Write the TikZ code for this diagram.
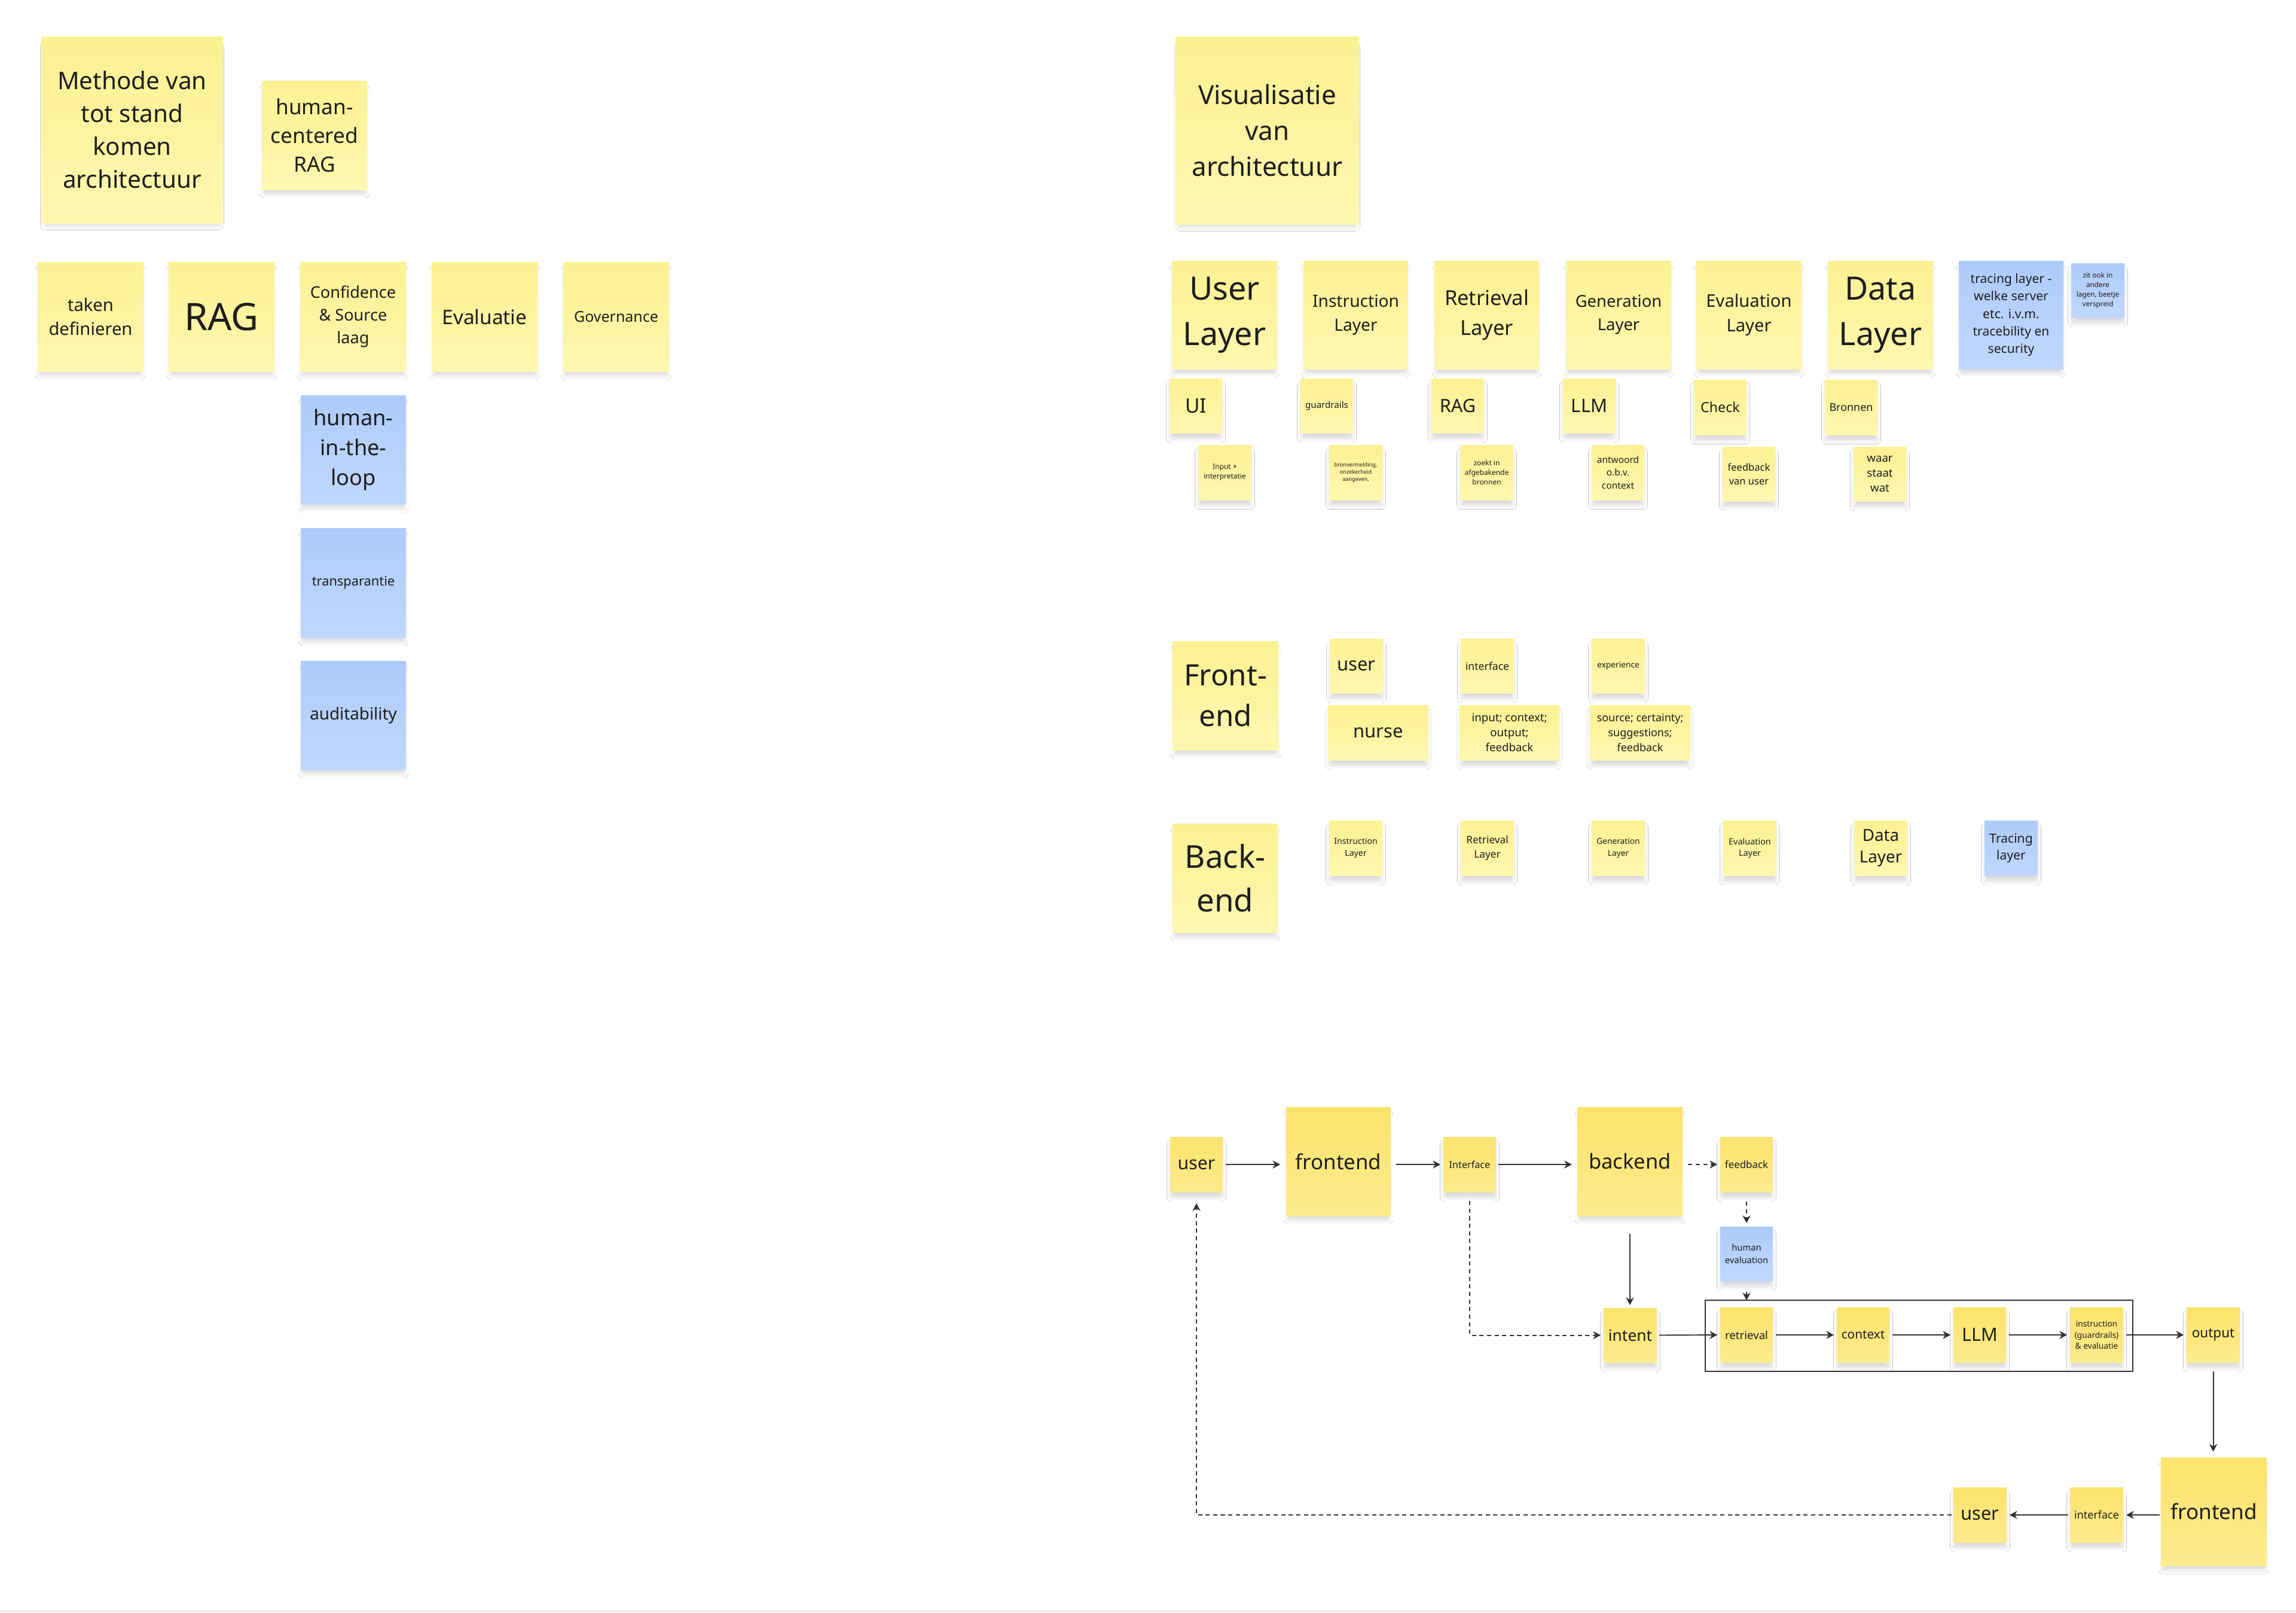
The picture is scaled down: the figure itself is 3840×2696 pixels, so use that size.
\documentclass[tikz,border=0pt]{standalone}
\usepackage{fontspec}
\setmainfont{Noto Sans}
\usetikzlibrary{arrows.meta,shadows.blur}
\definecolor{lyT}{HTML}{FCF192}
\definecolor{lyB}{HTML}{FEF7B0}
\definecolor{dyT}{HTML}{FCE36B}
\definecolor{dyB}{HTML}{FDEB8E}
\definecolor{blT}{HTML}{ADCBFA}
\definecolor{blB}{HTML}{C0D8FC}
\definecolor{txt}{HTML}{1E1E1E}
\definecolor{ln}{HTML}{333333}
\tikzset{
  sticky/.style={inner sep=0pt, outer sep=0pt, align=center, text=txt,
    blur shadow={shadow xshift=0pt, shadow yshift=-3pt, shadow blur radius=2.2pt,
      shadow blur steps=6, shadow opacity=16, shadow scale=0.96}},
  ly/.style={sticky, top color=lyT, bottom color=lyB},
  dy/.style={sticky, top color=dyT, bottom color=dyB},
  bl/.style={sticky, top color=blT, bottom color=blB},
  arr/.style={draw=ln, line width=0.55pt, -{Stealth[length=3.6pt,width=3.8pt,inset=1.1pt]}},
  darr/.style={arr, dash pattern=on 2pt off 1.6pt},
}
% #1 style, #2 name, #3 x1, #4 y1, #5 x2, #6 y2, #7 size, #8 baseline, #9 text
\newcommand{\stk}[9]{%
  \node[#1, minimum width={(#5-#3)*0.01cm}, minimum height={(#6-#4)*0.01cm},
    font={\fontsize{#7pt}{#8pt}\selectfont}] (#2) at ({(#3+#5)/2},{(#4+#6)/2}) {#9};}
\begin{document}
\begin{tikzpicture}[x=0.01cm, y=-0.01cm]
\useasboundingbox[fill=white] (0,0) rectangle (3840,2696);
\fill[gray!12] (0,2692) rectangle (3840,2696);

% ---------- left cluster ----------
\stk{ly}{meth}{69}{61}{373}{373}{11.5}{15.6}{Methode van\\tot stand\\komen\\architectuur}
\stk{ly}{hcr}{438}{135}{614}{317}{10}{13.6}{human-\\centered\\RAG}
\stk{ly}{taken}{63}{438}{240}{621}{8.3}{11.2}{taken\\definieren}
\stk{ly}{rag}{282}{438}{459}{621}{18}{22}{RAG}
\stk{ly}{conf}{502}{438}{679}{621}{7.7}{10.8}{Confidence\\\& Source\\laag}
\stk{ly}{evl}{722}{438}{899}{621}{9.5}{12}{Evaluatie}
\stk{ly}{gov}{942}{438}{1119}{621}{7.1}{9}{Governance}
\stk{bl}{hitl}{503}{661}{679}{843}{10.3}{14.3}{human-\\in-the-\\loop}
\stk{bl}{transp}{503}{883}{679}{1066}{6.2}{8}{transparantie}
\stk{bl}{audit}{503}{1105}{679}{1287}{7.9}{10}{auditability}

% ---------- layers ----------
\stk{ly}{vis}{1966}{61}{2273}{375}{12.5}{17}{Visualisatie\\van\\architectuur}
\stk{ly}{ul}{1960}{436}{2136}{617}{15.3}{21.6}{User\\Layer}
\stk{ly}{il}{2180}{436}{2355}{617}{8}{11.2}{Instruction\\Layer}
\stk{ly}{rl}{2399}{436}{2574}{617}{9.8}{14}{Retrieval\\Layer}
\stk{ly}{gl}{2619}{436}{2795}{617}{7.8}{11}{Generation\\Layer}
\stk{ly}{el}{2837}{436}{3013}{617}{8.3}{11.5}{Evaluation\\Layer}
\stk{ly}{dl}{3057}{436}{3233}{617}{15.3}{21.6}{Data\\Layer}
\stk{bl}{tl}{3276}{436}{3451}{617}{6}{8.3}{tracing layer -\\welke server\\etc. i.v.m.\\tracebility en\\security}
\stk{bl}{zit}{3464}{440}{3553}{531}{3.35}{4.6}{zit ook in\\andere\\lagen, beetje\\verspreid}

\stk{ly}{ui}{1956}{633}{2044}{724}{9.5}{12}{UI}
\stk{ly}{guard}{2175}{633}{2263}{724}{4.3}{6}{guardrails}
\stk{ly}{ragb}{2394}{633}{2482}{724}{8.7}{11}{RAG}
\stk{ly}{llma}{2614}{633}{2702}{724}{8.8}{11}{LLM}
\stk{ly}{check}{2833}{635}{2921}{727}{6.6}{9}{Check}
\stk{ly}{bron}{3052}{635}{3140}{727}{5.1}{7}{Bronnen}

\stk{ly}{inp}{2004}{744}{2093}{836}{3.4}{4.6}{Input +\\interpretatie}
\stk{ly}{bronv}{2223}{744}{2312}{836}{2.6}{3.4}{bronvermelding,\\onzekerheid\\aangeven,}
\stk{ly}{zoekt}{2442}{744}{2531}{836}{3.4}{4.6}{zoekt in\\afgebakende\\bronnen}
\stk{ly}{antw}{2662}{744}{2750}{836}{4.4}{6.2}{antwoord\\o.b.v.\\context}
\stk{ly}{fbu}{2881}{747}{2969}{838}{4.7}{6.6}{feedback\\van user}
\stk{ly}{waar}{3100}{747}{3188}{838}{5.3}{7.2}{waar\\staat\\wat}

% ---------- front-end ----------
\stk{ly}{fe}{1961}{1072}{2138}{1254}{14}{19.5}{Front-\\end}
\stk{ly}{fuser}{2224}{1068}{2313}{1159}{8.8}{11}{user}
\stk{ly}{finter}{2443}{1068}{2532}{1159}{5}{7}{interface}
\stk{ly}{fexp}{2662}{1068}{2751}{1159}{3.9}{5}{experience}
\stk{ly}{nurse}{2221}{1179}{2389}{1271}{8.8}{11}{nurse}
\stk{ly}{icof}{2441}{1179}{2608}{1271}{5.3}{7.1}{input; context;\\output;\\feedback}
\stk{ly}{scsf}{2659}{1179}{2827}{1271}{5.1}{7.1}{source; certainty;\\suggestions;\\feedback}

% ---------- back-end ----------
\stk{ly}{be}{1961}{1377}{2137}{1559}{15}{20.9}{Back-\\end}
\stk{ly}{bil}{2223}{1372}{2312}{1464}{4}{5.5}{Instruction\\Layer}
\stk{ly}{brl}{2443}{1372}{2532}{1464}{4.9}{6.6}{Retrieval\\Layer}
\stk{ly}{bgl}{2662}{1372}{2751}{1464}{3.9}{5.5}{Generation\\Layer}
\stk{ly}{bel}{2882}{1372}{2971}{1464}{4.1}{5.5}{Evaluation\\Layer}
\stk{ly}{bdl}{3101}{1372}{3190}{1464}{7.9}{10.4}{Data\\Layer}
\stk{bl}{btl}{3319}{1372}{3408}{1464}{6}{8}{Tracing\\layer}

% ---------- flow ----------
\node[draw=ln, line width=0.6pt, inner sep=0pt, outer sep=0pt,
  minimum width={715*0.01cm}, minimum height={119*0.01cm}] (frame) at (3209.5,2233.5) {};
\stk{dy}{u1}{1957}{1901}{2045}{1993}{8.6}{11}{user}
\stk{dy}{fe1}{2151}{1851}{2326}{2033}{9.9}{12}{frontend}
\stk{dy}{if1}{2414}{1901}{2502}{1993}{4.6}{6}{Interface}
\stk{dy}{be1}{2638}{1851}{2814}{2033}{9.8}{12}{backend}
\stk{dy}{fbk}{2877}{1901}{2965}{1993}{4.8}{6}{feedback}
\stk{bl}{hev}{2877}{2051}{2965}{2142}{4.2}{5.8}{human\\evaluation}
\stk{dy}{intent}{2682}{2187}{2771}{2278}{7.5}{10}{intent}
\stk{dy}{ret}{2877}{2186}{2965}{2278}{5.3}{7}{retrieval}
\stk{dy}{ctx}{3072}{2186}{3160}{2278}{5.9}{7.5}{context}
\stk{dy}{llmb}{3267}{2186}{3355}{2278}{8.7}{11}{LLM}
\stk{dy}{igs}{3462}{2186}{3551}{2278}{3.9}{5.3}{instruction\\(guardrails)\\\& evaluatie}
\stk{dy}{out}{3657}{2186}{3746}{2278}{6.4}{8}{output}
\stk{dy}{fe2}{3614}{2437}{3791}{2618}{10}{12}{frontend}
\stk{dy}{if2}{3462}{2487}{3551}{2579}{5.1}{7}{interface}
\stk{dy}{u2}{3267}{2487}{3356}{2579}{8.8}{11}{user}

% ---------- connectors ----------
\draw[arr, shorten <=1.4pt, shorten >=2.8pt] (u1.east) -- (u1.east -| fe1.west);
\draw[arr, shorten <=2.6pt, shorten >=1.4pt] (fe1.east |- if1.west) -- (if1.west);
\draw[arr, shorten <=1.1pt, shorten >=2.6pt] (if1.east) -- (if1.east -| be1.west);
\draw[darr, shorten <=2.6pt, shorten >=1.4pt] (be1.east |- fbk.west) -- (fbk.west);
\draw[darr, shorten <=4.6pt, shorten >=1.7pt] (fbk.south) -- (hev.north);
\draw[arr, shorten <=5.1pt] (hev.south) -- (hev.south |- frame.north);
\draw[arr, shorten <=8.5pt, shorten >=1.4pt] (be1.south) -- (be1.south |- intent.north);
\draw[darr, shorten <=4.3pt, shorten >=1.4pt] (if1.south) |- (intent.west);
\draw[arr, shorten <=1.1pt, shorten >=1.4pt] (intent.east) -- (ret.west);
\draw[arr, shorten <=1.4pt, shorten >=1.4pt] (ret.east) -- (ctx.west);
\draw[arr, shorten <=1.4pt, shorten >=1.4pt] (ctx.east) -- (llmb.west);
\draw[arr, shorten <=1.4pt, shorten >=1.4pt] (llmb.east) -- (igs.west);
\draw[arr, shorten <=1.4pt, shorten >=1.4pt] (igs.east) -- (out.west);
\draw[arr, shorten <=4.3pt, shorten >=2.8pt] (out.south) -- (out.south |- fe2.north);
\draw[arr, shorten <=0.5pt, shorten >=1.4pt] (fe2.west |- if2.east) -- (if2.east);
\draw[arr, shorten <=1pt, shorten >=1.4pt] (if2.west) -- (u2.east);
\draw[darr, shorten <=0.9pt, shorten >=5.4pt] (u2.west) -| (u1.south);
\end{tikzpicture}
\end{document}
